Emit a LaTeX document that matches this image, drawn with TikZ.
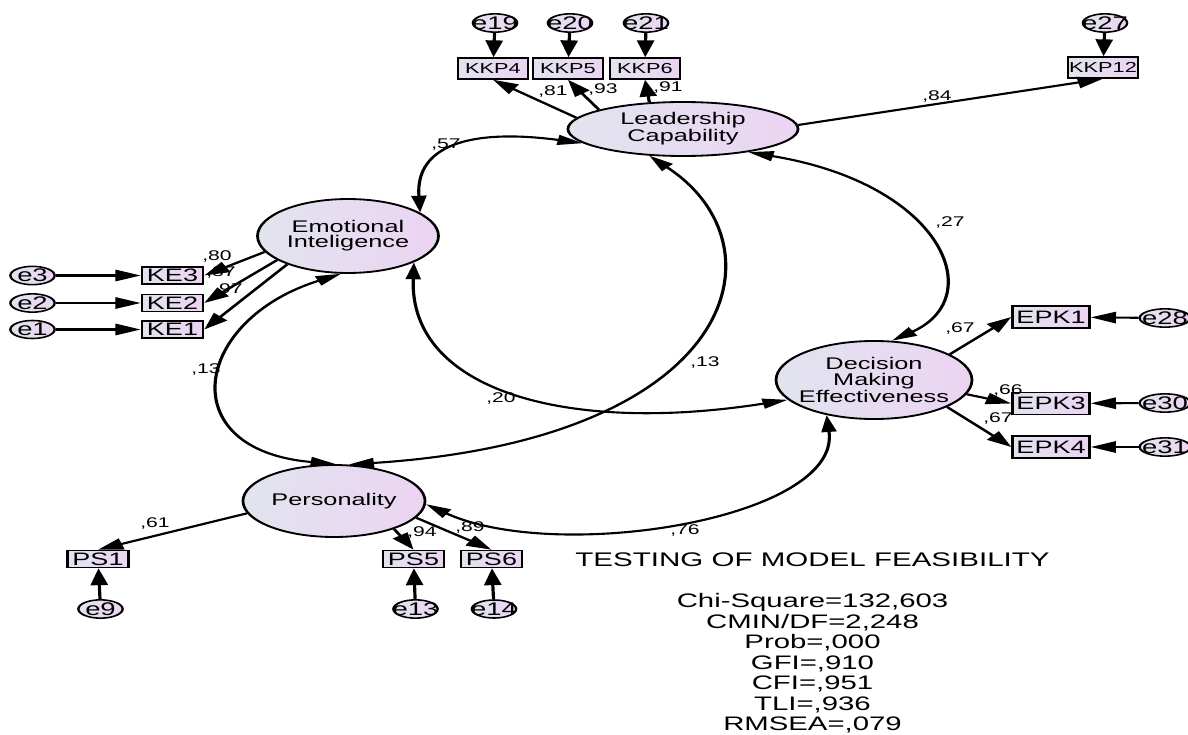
\documentclass[tikz,border=0pt]{standalone}
\usepackage{fontspec}
\setmainfont{Liberation Sans}
\usetikzlibrary{arrows.meta,shapes.geometric}

\definecolor{shadeL}{HTML}{E1E4EF}
\definecolor{shadeR}{HTML}{ECD4F2}

\newcommand{\fsz}[1]{\fontsize{#1}{#1}\selectfont}
\newcommand{\errname}[1]{\makebox[0pt]{#1}}

\tikzset{every path/.style={line width=1.5pt}}
\tikzset{
  latent/.style={ellipse, draw, line width=1.3pt, left color=shadeL, right color=shadeR,
    inner sep=0pt, inner xsep=-3pt, align=center, font=\fontsize{12}{10.8}\selectfont},
  obs/.style={rectangle, draw, line width=1.1pt, left color=shadeL, right color=shadeR, inner sep=0pt},
  itemK/.style={obs, minimum width=33pt, minimum height=14.9pt, font=\fsz{10.3}},
  itemS/.style={obs, minimum width=29pt, minimum height=12.1pt, font=\fsz{12.8}},
  itemE/.style={obs, minimum width=36.5pt, minimum height=15.6pt, font=\fsz{12.8}},
  err/.style={ellipse, draw, line width=1.1pt, left color=shadeL, right color=shadeR,
    inner sep=0pt, minimum width=21pt, minimum height=12.5pt, font=\fsz{13}},
  coef/.style={font=\fsz{10}, inner sep=0pt},
  load/.style={-{Triangle[length=12pt,width=8pt]}},
  cov/.style={{Triangle[length=12pt,width=7pt]}-{Triangle[length=12pt,width=7pt]}},
}

\begin{document}
\begin{tikzpicture}[x=0.025cm, y=-0.025cm]
\useasboundingbox (0,0) rectangle (1188,735);
\begin{scope}[x=0.0166667cm, transform canvas={xscale=1.5}]

% latent variables
\node[latent, minimum width=109.1pt, minimum height=38.4pt] (LC) at (683,129) {Leadership\\Capability};
\node[latent, minimum width=85.8pt, minimum height=52.6pt] (EI) at (348,236) {Emotional\\Inteligence};
\node[latent, minimum width=92.9pt, minimum height=55.5pt] (DME) at (874,380) {Decision\\Making\\Effectiveness};
\node[latent, minimum width=86.3pt, minimum height=51.2pt] (PER) at (334,501) {Personality};

% indicators
\node[itemK] (KKP4) at (493,68.5) {KKP4};
\node[itemK] (KKP5) at (568,68.5) {KKP5};
\node[itemK] (KKP6) at (645,68.5) {KKP6};
\node[itemK] (KKP12) at (1103,67.5) {KKP12};
\node[itemS] (KE3) at (172.5,275.5) {KE3};
\node[itemS] (KE2) at (172.5,303) {KE2};
\node[itemS] (KE1) at (172.5,329.5) {KE1};
\node[itemE] (EPK1) at (1051,317) {EPK1};
\node[itemE] (EPK3) at (1051,403.5) {EPK3};
\node[itemE] (EPK4) at (1051,447) {EPK4};
\node[itemS] (PS1) at (98,559) {PS1};
\node[itemS] (PS5) at (413.5,559) {PS5};
\node[itemS] (PS6) at (491.5,559) {PS6};

% error terms
\node[err] (e19) at (495,23) {\errname{e19}};
\node[err] (e20) at (570,23) {\errname{e20}};
\node[err] (e21) at (646,23) {\errname{e21}};
\node[err] (e27) at (1105,23) {\errname{e27}};
\node[err] (e3) at (32.5,275.5) {\errname{e3}};
\node[err] (e2) at (32.5,303) {\errname{e2}};
\node[err] (e1) at (32.5,329.5) {\errname{e1}};
\node[err, minimum width=24pt] (e28) at (1165,318) {\errname{e28}};
\node[err, minimum width=24pt] (e30) at (1165,403) {\errname{e30}};
\node[err, minimum width=24pt] (e31) at (1165,447) {\errname{e31}};
\node[err] (e9) at (100.5,609) {\errname{e9}};
\node[err] (e13) at (415.5,609) {\errname{e13}};
\node[err] (e14) at (494,609) {\errname{e14}};

% estimates
\node[coef] (c81) at (553,91) {,81};
\node[coef] (c93) at (603,89) {,93};
\node[coef] (c91) at (668,87) {,91};
\node[coef] (c84) at (937,96) {,84};
\node[coef] (c57) at (446,145) {,57};
\node[coef] (c27) at (950,222) {,27};
\node[coef] (c80) at (217,256) {,80};
\node[coef] (c87) at (221,272) {,87};
\node[coef] (c97) at (228,289) {,97};
\node[coef] (c13a) at (206,369) {,13};
\node[coef] (c13b) at (705,362) {,13};
\node[coef] (c20) at (501,398) {,20};
\node[coef] (c67a) at (960,328) {,67};
\node[coef] (c66) at (1008,390) {,66};
\node[coef] (c67b) at (998,418) {,67};
\node[coef] (c61) at (155,523) {,61};
\node[coef] (c94) at (422,532) {,94};
\node[coef] (c89) at (470,527) {,89};
\node[coef] (c76) at (685,530) {,76};

% loadings
\draw[load] (LC.171) -- (KKP4.south);
\draw[load] (LC.161) -- (KKP5.south);
\draw[load] (LC.130) -- (KKP6.south);
\draw[load] (LC.3) -- (KKP12.south);
\draw[load] (EI.196) -- (KE3.east);
\draw[load] (EI.207) -- (KE2.east);
\draw[load] (EI.215) -- (KE1.east);
\draw[load] (DME.27) -- (EPK1.west);
\draw[load] (DME.-13) -- (EPK3.west);
\draw[load] (DME.-29) -- (EPK4.west);
\draw[load] (PER.192) -- (PS1.north);
\draw[load] (PER.-35) -- (PS5.north);
\draw[load] (PER.-17) -- (PS6.north);

% errors
\draw[load] (e19) -- (KKP4);
\draw[load] (e20) -- (KKP5);
\draw[load] (e21) -- (KKP6);
\draw[load] (e27) -- (KKP12);
\draw[load] (e3) -- (KE3);
\draw[load] (e2) -- (KE2);
\draw[load] (e1) -- (KE1);
\draw[load] (e28) -- (EPK1);
\draw[load] (e30) -- (EPK3);
\draw[load] (e31) -- (EPK4);
\draw[load] (e9) -- (PS1);
\draw[load] (e13) -- (PS5);
\draw[load] (e14) -- (PS6);

% covariances
\draw[cov] (EI.26) .. controls +(-5,-67) and +(-113,-15) .. (LC.192);
\draw[cov] (LC.-28) .. controls +(195,32) and +(97,-43) .. (DME.73);
\draw[cov] (LC.230) .. controls +(138,90) and +(390,-25) .. (PER.75);
\draw[cov] (EI.263) .. controls +(-148,46) and +(-165,-14) .. (PER.88);
\draw[cov] (EI.-31) .. controls +(-5,127) and +(-223,35) .. (DME.199);
\draw[cov] (PER.-3) .. controls +(133,60) and +(15,103) .. (DME.228);

% fit
\node[font=\fsz{14}, anchor=base, inner sep=0pt] (title) at (812.5,566) {TESTING OF MODEL FEASIBILITY};
\node[font=\fontsize{13.9}{14.6}\selectfont, align=center, anchor=north, inner sep=0pt] (fit) at (812.5,592.5)
  {Chi-Square=132,603\\CMIN/DF=2,248\\Prob=,000\\GFI=,910\\CFI=,951\\TLI=,936\\RMSEA=,079};
\end{scope}
\end{tikzpicture}
\end{document}
